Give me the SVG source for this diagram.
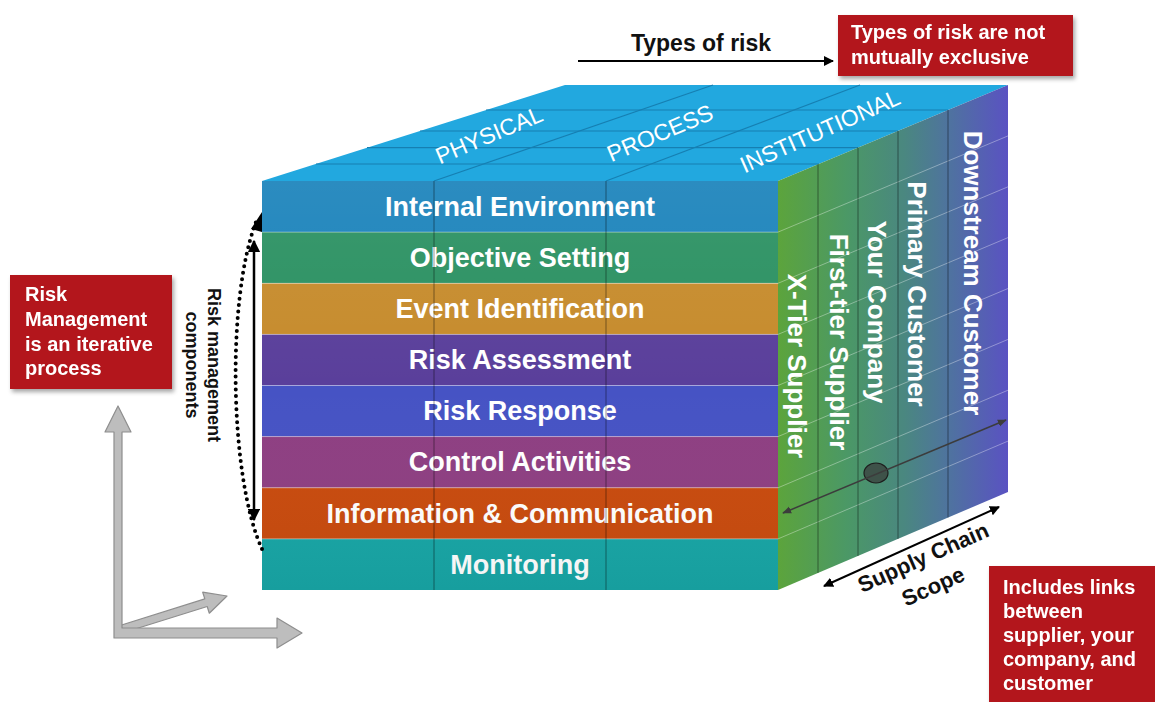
<svg xmlns="http://www.w3.org/2000/svg" width="1155" height="702" viewBox="0 0 1155 702">
  <style>
    .row-label { font-family: "Liberation Sans", Arial, sans-serif; font-weight: bold; font-size: 27px; fill: #ffffff; text-anchor: middle; }
    .side-label { font-family: "Liberation Sans", Arial, sans-serif; font-weight: bold; font-size: 26px; fill: #ffffff; text-anchor: middle; }
    .top-label { font-family: "Liberation Sans", Arial, sans-serif; font-size: 23px; fill: #ffffff; text-anchor: middle; }
    .note { fill: #b3181e; }
    .note-text { font-family: "Liberation Sans", Arial, sans-serif; font-weight: bold; font-size: 20px; fill: #ffffff; }
    .caption { font-family: "Liberation Sans", Arial, sans-serif; font-weight: bold; fill: #111111; }
    .grid-dark { stroke: #000000; stroke-opacity: 0.35; stroke-width: 1.2; fill: none; }
    .grid-light { stroke: #ffffff; stroke-opacity: 0.35; stroke-width: 1; fill: none; }
    .top-grid { stroke: #167fb2; stroke-width: 1.2; fill: none; }
    .axis { fill: #bdbdbd; stroke: #8e8e8e; stroke-width: 1.2; stroke-linejoin: round; }
  </style>
  <defs>
    <linearGradient id="sideFill" gradientUnits="userSpaceOnUse" x1="778" y1="0" x2="1008" y2="0">
      <stop offset="0" stop-color="#5ca43c"/>
      <stop offset="0.3" stop-color="#4b9866"/>
      <stop offset="0.55" stop-color="#4a8780"/>
      <stop offset="0.75" stop-color="#4f72a0"/>
      <stop offset="1" stop-color="#5a52c2"/>
    </linearGradient>
    <linearGradient id="rowShade" x1="0" y1="0" x2="0" y2="1">
      <stop offset="0" stop-color="#ffffff" stop-opacity="0.12"/>
      <stop offset="0.5" stop-color="#ffffff" stop-opacity="0"/>
      <stop offset="1" stop-color="#000000" stop-opacity="0.08"/>
    </linearGradient>
    <filter id="shadow" x="-10%" y="-10%" width="130%" height="130%">
      <feDropShadow dx="2" dy="3" stdDeviation="2" flood-color="#000000" flood-opacity="0.35"/>
    </filter>
    <marker id="head" viewBox="0 0 10 10" refX="9" refY="5" markerWidth="5" markerHeight="5" orient="auto-start-reverse">
      <path d="M0,0 L10,5 L0,10 Z" fill="#000000"/>
    </marker>
    <marker id="headSmall" viewBox="0 0 10 10" refX="9" refY="5" markerWidth="6" markerHeight="6" orient="auto-start-reverse">
      <path d="M0,1 L10,5 L0,9 Z" fill="#3c3c3c"/>
    </marker>
  </defs>

  <rect width="1155" height="702" fill="#ffffff"/>

  <!-- Cube: top face -->
  <g id="top-face">
    <polygon points="262,181 778,181 1008,85 565,85" fill="#22a8df"/>
    <line class="top-grid" x1="316" y1="164" x2="819" y2="164"/>
    <line class="top-grid" x1="367" y1="147.6" x2="858" y2="147.6"/>
    <line class="top-grid" x1="420" y1="131" x2="898" y2="131"/>
    <line class="top-grid" x1="486" y1="110" x2="948" y2="110"/>
    <line class="top-grid" x1="434" y1="181" x2="713" y2="85"/>
    <line class="top-grid" x1="606" y1="181" x2="860" y2="85"/>
    <text class="top-label" transform="translate(489,135) rotate(-23)" y="8">PHYSICAL</text>
    <text class="top-label" transform="translate(660,133) rotate(-23)" y="8">PROCESS</text>
    <text class="top-label" transform="translate(820,131) rotate(-24)" y="8">INSTITUTIONAL</text>
  </g>

  <!-- Cube: right face (supply chain scope) -->
  <g id="side-face">
    <polygon points="778,181 1008,85 1008,492 778,590" fill="url(#sideFill)"/>
    <g class="grid-light">
      <line x1="778" y1="232.1" x2="1008" y2="135.9"/>
      <line x1="778" y1="283.3" x2="1008" y2="186.8"/>
      <line x1="778" y1="334.4" x2="1008" y2="237.6"/>
      <line x1="778" y1="385.5" x2="1008" y2="288.5"/>
      <line x1="778" y1="436.6" x2="1008" y2="339.4"/>
      <line x1="778" y1="487.8" x2="1008" y2="390.2"/>
      <line x1="778" y1="538.9" x2="1008" y2="441.1"/>
    </g>
    <g class="grid-dark">
      <line x1="818" y1="164.3" x2="818" y2="573"/>
      <line x1="858" y1="147.6" x2="858" y2="556"/>
      <line x1="898" y1="131" x2="898" y2="539"/>
      <line x1="948" y1="110" x2="948" y2="517.5"/>
    </g>
    <text class="side-label" transform="translate(797,366) rotate(90)" y="9">X-Tier Supplier</text>
    <text class="side-label" transform="translate(839,342) rotate(90)" y="9">First-tier Supplier</text>
    <text class="side-label" transform="translate(877,312) rotate(90)" y="9">Your Company</text>
    <text class="side-label" transform="translate(917,294) rotate(90)" y="9">Primary Customer</text>
    <text class="side-label" transform="translate(973,273) rotate(90)" y="9">Downstream Customer</text>
  </g>

  <!-- Cube: front face, one band per risk management component -->
  <g id="row-internal-environment">
    <rect x="262" y="181" width="516" height="51.1" fill="#1b83bb"/>
    <text class="row-label" x="520" y="216">Internal Environment</text>
  </g>
  <g id="row-objective-setting">
    <rect x="262" y="232.1" width="516" height="51.1" fill="#2b9162"/>
    <text class="row-label" x="520" y="267">Objective Setting</text>
  </g>
  <g id="row-event-identification">
    <rect x="262" y="283.3" width="516" height="51.1" fill="#c68b2c"/>
    <text class="row-label" x="520" y="318">Event Identification</text>
  </g>
  <g id="row-risk-assessment">
    <rect x="262" y="334.4" width="516" height="51.1" fill="#5a3f9b"/>
    <text class="row-label" x="520" y="369">Risk Assessment</text>
  </g>
  <g id="row-risk-response">
    <rect x="262" y="385.5" width="516" height="51.1" fill="#4653c4"/>
    <text class="row-label" x="520" y="420">Risk Response</text>
  </g>
  <g id="row-control-activities">
    <rect x="262" y="436.6" width="516" height="51.1" fill="#8e3f82"/>
    <text class="row-label" x="520" y="471">Control Activities</text>
  </g>
  <g id="row-information-communication">
    <rect x="262" y="487.8" width="516" height="51.1" fill="#c94b0e"/>
    <text class="row-label" x="520" y="523">Information &amp; Communication</text>
  </g>
  <g id="row-monitoring">
    <rect x="262" y="538.9" width="516" height="51.1" fill="#18a6a6"/>
    <text class="row-label" x="520" y="574">Monitoring</text>
  </g>
  <g id="front-grid">
    <rect x="262" y="181" width="516" height="409" fill="url(#rowShade)" opacity="0.6"/>
    <g class="grid-light">
      <line x1="262" y1="232.1" x2="778" y2="232.1"/>
      <line x1="262" y1="283.3" x2="778" y2="283.3"/>
      <line x1="262" y1="334.4" x2="778" y2="334.4"/>
      <line x1="262" y1="385.5" x2="778" y2="385.5"/>
      <line x1="262" y1="436.6" x2="778" y2="436.6"/>
      <line x1="262" y1="487.8" x2="778" y2="487.8"/>
      <line x1="262" y1="538.9" x2="778" y2="538.9"/>
    </g>
    <g class="grid-dark">
      <line x1="434" y1="181" x2="434" y2="590"/>
      <line x1="606" y1="181" x2="606" y2="590"/>
    </g>
  </g>

  <!-- Focus point on the supply chain face -->
  <g id="focus-point">
    <ellipse cx="876" cy="473" rx="12" ry="10" fill="#3e5249" stroke="#1e1e1e" stroke-width="1.2"/>
  </g>

  <!-- Notes -->
  <g id="note-types" filter="url(#shadow)">
    <rect class="note" x="838" y="15" width="235" height="61"/>
    <text class="note-text" x="851" y="39">Types of risk are not</text>
    <text class="note-text" x="851" y="64">mutually exclusive</text>
  </g>
  <g id="note-iterative" filter="url(#shadow)">
    <rect class="note" x="10" y="275" width="162" height="114"/>
    <text class="note-text" x="25" y="301">Risk</text>
    <text class="note-text" x="25" y="326">Management</text>
    <text class="note-text" x="25" y="351">is an iterative</text>
    <text class="note-text" x="25" y="375">process</text>
  </g>
  <g id="note-links" filter="url(#shadow)">
    <rect class="note" x="989" y="566" width="170" height="140"/>
    <text class="note-text" x="1003" y="594">Includes links</text>
    <text class="note-text" x="1003" y="618">between</text>
    <text class="note-text" x="1003" y="642">supplier, your</text>
    <text class="note-text" x="1003" y="666">company, and</text>
    <text class="note-text" x="1003" y="690">customer</text>
  </g>

  <!-- Captions -->
  <g id="label-types-of-risk">
    <text class="caption" x="701" y="51" font-size="23" text-anchor="middle">Types of risk</text>
  </g>
  <g id="label-components">
    <text class="caption" transform="translate(214,365) rotate(90)" font-size="18" text-anchor="middle" y="6">Risk management</text>
    <text class="caption" transform="translate(192,365) rotate(90)" font-size="18" text-anchor="middle" y="6">components</text>
  </g>
  <g id="label-scope">
    <text class="caption" transform="translate(923,557) rotate(-24)" font-size="22" text-anchor="middle" y="8">Supply Chain</text>
    <text class="caption" transform="translate(933,586) rotate(-24)" font-size="22" text-anchor="middle" y="8">Scope</text>
  </g>

  <!-- Gray dimension axes -->
  <g id="axes">
    <polygon class="axis" points="120.8,625.2 204.8,598.9 202.7,592.2 227,596 209.3,613.2 207.2,606.5 123.2,632.8"/>
    <path class="axis" d="M114,638 L114,432 L105,432 L118,406 L131,432 L122,432 L122,628 L277,628 L277,618 L302,633 L277,648 L277,638 Z"/>
  </g>

  <!-- Connectors -->
  <g id="connectors">
    <line x1="578" y1="61" x2="833" y2="61" stroke="#000000" stroke-width="2" marker-end="url(#head)"/>
    <line x1="254" y1="241" x2="254" y2="520" stroke="#000000" stroke-width="2.5" marker-start="url(#head)" marker-end="url(#head)"/>
    <path d="M262,549 C230,480 226,300 256,222" fill="none" stroke="#000000" stroke-width="4" stroke-dasharray="0 6.5" stroke-linecap="round"/>
    <path d="M251,229 L262,212 L262,232 Z" fill="#000000"/>
    <line x1="824" y1="586" x2="999" y2="507" stroke="#000000" stroke-width="2" marker-start="url(#head)" marker-end="url(#head)"/>
    <line x1="783" y1="513" x2="1006" y2="420" stroke="#3c3c3c" stroke-width="1.5" marker-start="url(#headSmall)" marker-end="url(#headSmall)"/>
  </g>
</svg>
